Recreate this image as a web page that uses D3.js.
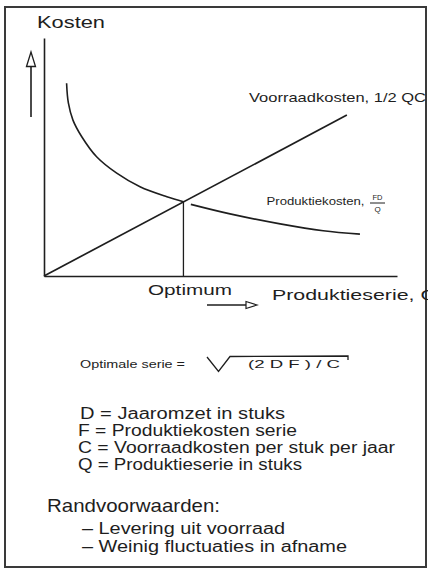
<!DOCTYPE html>
<html>
<head>
<meta charset="utf-8">
<script src="https://cdn.jsdelivr.net/npm/d3@7"></script>
<style>
  html, body { margin: 0; padding: 0; background: #fff; }
  svg { display: block; }
</style>
</head>
<body>
<svg id="chart" width="428" height="570"></svg>
<script>
// Production run size Q (arbitrary units, 0-100) and cost levels (0-100)
const productionQ    = [6.4, 6.9, 8.2, 10.7, 14.9, 20.6, 27.2, 34.8, 39.5, null, 41.6, 52.7, 66.9, 79.1, 89.5];
const productionCost = [81.0, 72.7, 65.5, 58.5, 50.1, 43.2, 37.5, 33.3, 31.2, null, 30.1, 26.1, 21.9, 19.0, 17.6];
const inventoryQ     = [0, 85.8];
const inventoryCost  = [0, 67.6];
const optimumQ       = [39.5, 39.5];
const optimumCost    = [0, 31.2];

const axisTitles   = ["Kosten", "Optimum", "Produktieserie, Q"];
const curveLabels  = ["Voorraadkosten, 1/2 QC", "Produktiekosten,"];
const fractionText = ["FD", "Q"];
const formulaText  = ["Optimale serie =", "(2 D F ) / C"];
const legendLines  = [
  "D = Jaaromzet in stuks",
  "F = Produktiekosten serie",
  "C = Voorraadkosten per stuk per jaar",
  "Q = Produktieserie in stuks"
];
const conditionsTitle = "Randvoorwaarden:";
const conditionLines  = ["– Levering uit voorraad", "– Weinig fluctuaties in afname"];

const ink = "#1e1e1e";
const font = "'Liberation Sans', Arial, sans-serif";
const svg = d3.select("#chart");

// outer frame
svg.append("rect")
  .attr("x", 5).attr("y", 7).attr("width", 421).attr("height", 560)
  .attr("fill", "none").attr("stroke", "#3a3a3a").attr("stroke-width", 2);

const x = d3.scaleLinear().domain([0, 100]).range([44, 397]);
const y = d3.scaleLinear().domain([0, 100]).range([276, 38]);

// axes without ticks: only the domain lines
const xAxis = svg.append("g").attr("transform", `translate(0,${y(0)})`)
  .call(d3.axisBottom(x).tickValues([]).tickSizeOuter(0));
const yAxis = svg.append("g").attr("transform", `translate(${x(0)},0)`)
  .call(d3.axisLeft(y).tickValues([]).tickSizeOuter(0));
[xAxis, yAxis].forEach(g => g.select(".domain")
  .attr("stroke", ink).attr("stroke-width", 1.6));

const lineGen = d3.line()
  .defined(d => d[0] !== null)
  .x(d => x(d[0])).y(d => y(d[1]));

// production cost FD/Q
svg.append("path")
  .datum(d3.zip(productionQ, productionCost))
  .attr("d", lineGen.curve(d3.curveCatmullRom.alpha(0.5)))
  .attr("fill", "none").attr("stroke", ink).attr("stroke-width", 1.6);

// inventory cost 1/2 QC
svg.append("path")
  .datum(d3.zip(inventoryQ, inventoryCost))
  .attr("d", d3.line().x(d => x(d[0])).y(d => y(d[1])))
  .attr("fill", "none").attr("stroke", ink).attr("stroke-width", 1.7);

// optimum drop line
svg.append("path")
  .datum(d3.zip(optimumQ, optimumCost))
  .attr("d", d3.line().x(d => x(d[0])).y(d => y(d[1])))
  .attr("fill", "none").attr("stroke", ink).attr("stroke-width", 1.3);

function label(text, tx, ty, size, len, anchor) {
  const t = svg.append("text")
    .attr("x", tx).attr("y", ty)
    .attr("font-family", font).attr("font-size", size)
    .attr("fill", ink).attr("text-anchor", anchor || "start")
    .text(text);
  if (len) t.attr("textLength", len).attr("lengthAdjust", "spacingAndGlyphs");
  return t;
}

// cost axis title and upward arrow
label(axisTitles[0], 37, 28, 17, 68);
svg.append("line").attr("x1", 31).attr("y1", 117).attr("x2", 31).attr("y2", 66)
  .attr("stroke", ink).attr("stroke-width", 1.6);
svg.append("path").attr("d", "M26.5,66.5 L31,52 L35.5,66.5 Z")
  .attr("fill", "#fff").attr("stroke", ink).attr("stroke-width", 1.3);

// quantity axis labels and rightward arrow
label(axisTitles[1], 148, 295, 15.5, 84);
svg.append("line").attr("x1", 207).attr("y1", 305).attr("x2", 246).attr("y2", 305)
  .attr("stroke", ink).attr("stroke-width", 1.4);
svg.append("path").attr("d", "M246,301.5 L257,305 L246,308.5 Z")
  .attr("fill", "#fff").attr("stroke", ink).attr("stroke-width", 1.2);
label(axisTitles[2], 272, 299.5, 15.5, 165);

// curve labels
label(curveLabels[0], 249, 102, 13.5, 177);
label(curveLabels[1], 266.5, 205, 11.5, 98);
label(fractionText[0], 377.5, 200, 8, 10, "middle");
svg.append("line").attr("x1", 370).attr("x2", 385).attr("y1", 203).attr("y2", 203)
  .attr("stroke", ink).attr("stroke-width", 1);
label(fractionText[1], 377.5, 211.5, 8, null, "middle");

// optimal run-size formula
label(formulaText[0], 80, 368, 10, 105);
svg.append("path").attr("d", "M207,357 L218.5,371.5 L230,356.5 L348,356 L348,360")
  .attr("fill", "none").attr("stroke", ink).attr("stroke-width", 1.3);
label(formulaText[1], 248, 368, 10.5, 92);

// symbol definitions
const legendX = [80, 78, 78, 78];
const legendLen = [205, 219, 317, 224];
legendLines.forEach((s, i) => label(s, legendX[i], 419 + i * 17, 16, legendLen[i]));

// preconditions
label(conditionsTitle, 47, 512, 19, 173);
const condLen = [203, 265];
conditionLines.forEach((s, i) => label(s, 82, 534 + i * 18, 16, condLen[i]));
</script>
</body>
</html>
